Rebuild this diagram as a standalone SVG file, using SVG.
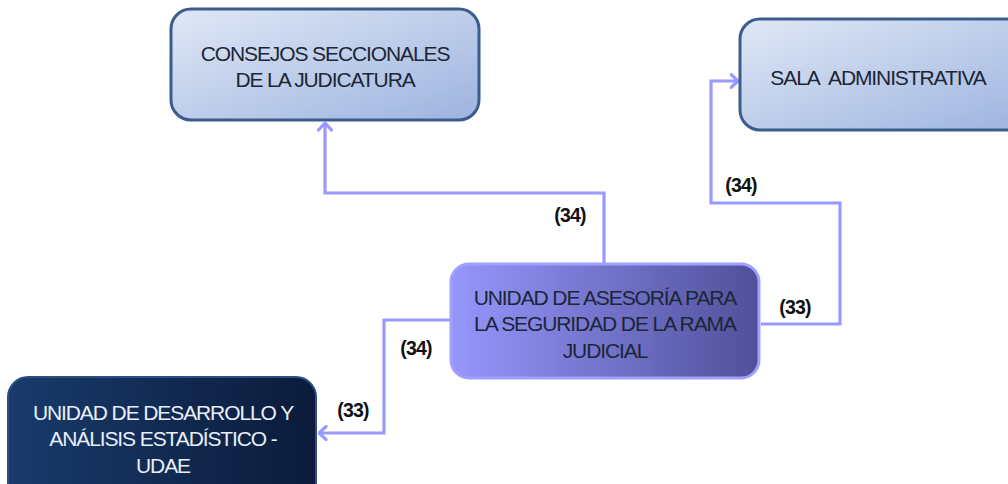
<svg xmlns="http://www.w3.org/2000/svg" width="1008" height="484" viewBox="0 0 1008 484">
<defs>
<linearGradient id="gLight" x1="0" y1="0" x2="1" y2="1">
<stop offset="0" stop-color="#e0e8f6"/>
<stop offset="1" stop-color="#9db3df"/>
</linearGradient>
<linearGradient id="gPurple" x1="0" y1="0" x2="1" y2="0">
<stop offset="0" stop-color="#9696fc"/>
<stop offset="1" stop-color="#50509a"/>
</linearGradient>
<linearGradient id="gDark" x1="0" y1="0" x2="1" y2="0">
<stop offset="0" stop-color="#183b6c"/>
<stop offset="1" stop-color="#0b1b3a"/>
</linearGradient>
<marker id="arr" viewBox="0 0 10 16" markerWidth="10" markerHeight="16" refX="8.5" refY="8" orient="auto" markerUnits="userSpaceOnUse">
<path d="M1.5,1.5 L8.5,8 L1.5,14.5" fill="none" stroke="#9999ff" stroke-width="3.2" stroke-linecap="round" stroke-linejoin="round"/>
</marker>
</defs>
<style>
.light{fill:url(#gLight);stroke:#3c5d8c;stroke-width:3}
.purple{fill:url(#gPurple);stroke:#a0a0ff;stroke-width:3}
.dark{fill:url(#gDark);stroke:#2c4f80;stroke-width:2}
.t{font-family:"Liberation Sans",Arial,sans-serif;font-size:21px;letter-spacing:-1.1px;text-anchor:middle;fill:#1b2636}
.tw{fill:#e9eef8}
.lbl{font-family:"Liberation Sans",Arial,sans-serif;font-size:19.5px;font-weight:bold;letter-spacing:-0.8px;text-anchor:middle;fill:#111}
.c{fill:none;stroke:#9999ff;stroke-width:3.2;marker-end:url(#arr)}
</style>
<rect width="1008" height="484" fill="#ffffff"/>
<g id="connectors">
<path class="c" d="M604,263 V193 H325 V123"/>
<path class="c" d="M761,324 H840 V203 H711 V81 H738"/>
<path class="c" d="M450,320 H384 V433 H319"/>
<text class="lbl" x="570" y="222">(34)</text>
<text class="lbl" x="741" y="192">(34)</text>
<text class="lbl" x="795" y="314">(33)</text>
<text class="lbl" x="416" y="355">(34)</text>
<text class="lbl" x="353" y="417">(33)</text>
</g>
<g id="consejos">
<rect class="light" x="171" y="9" width="308" height="111" rx="20"/>
<text class="t" x="325" y="61">CONSEJOS SECCIONALES</text>
<text class="t" x="325" y="87">DE LA JUDICATURA</text>
</g>
<g id="sala">
<rect class="light" x="740" y="19" width="290" height="111" rx="20"/>
<text class="t" x="878" y="85">SALA&#160; ADMINISTRATIVA</text>
</g>
<g id="asesoria">
<rect class="purple" x="451" y="264" width="308" height="114" rx="18"/>
<text class="t" x="605" y="305">UNIDAD DE ASESORÍA PARA</text>
<text class="t" x="605" y="331">LA SEGURIDAD DE LA RAMA</text>
<text class="t" x="605" y="358">JUDICIAL</text>
</g>
<g id="udae">
<rect class="dark" x="8" y="377" width="308" height="130" rx="20"/>
<text class="t tw" x="163" y="420">UNIDAD DE DESARROLLO Y</text>
<text class="t tw" x="163" y="446">ANÁLISIS ESTADÍSTICO -</text>
<text class="t tw" x="163" y="473">UDAE</text>
</g>
</svg>
